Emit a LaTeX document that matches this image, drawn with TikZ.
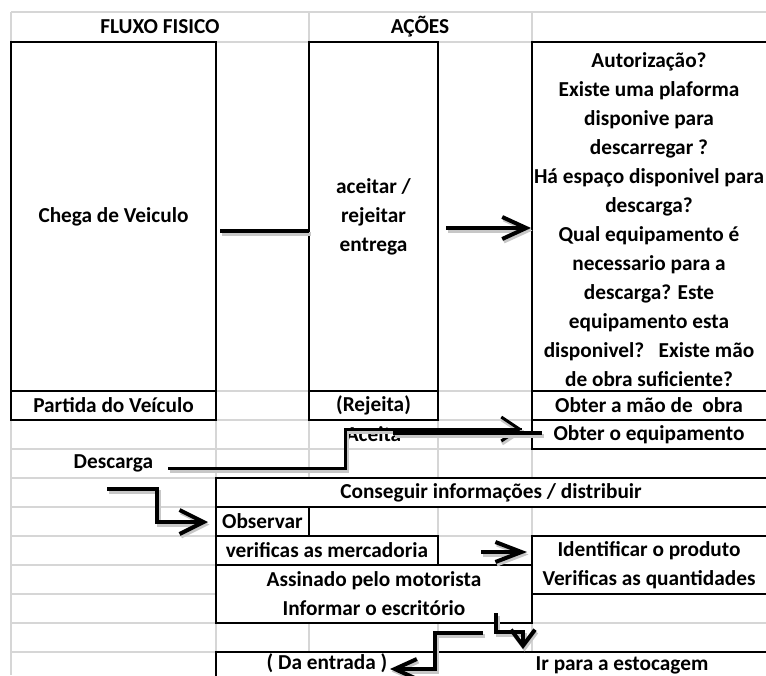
\documentclass[tikz,border=0pt]{standalone}
\usepackage{fontspec}
\setmainfont{Carlito}
\usetikzlibrary{arrows.meta}
\definecolor{gridgray}{HTML}{D6D6D6}
\begin{document}
\begin{tikzpicture}[x=1pt,y=-1pt,
  every node/.style={font=\bfseries\fontsize{21.3}{29}\selectfont, inner sep=0pt, align=center},
  grid/.style={draw=gridgray, line width=1.5pt},
  cell/.style={draw=black, line width=1.8pt, fill=white},
  conn/.style={line width=4pt,
    preaction={draw=black!22, line width=4pt, transform canvas={shift={(1.5pt,-2.5pt)}}}},
  barb/.style args={#1/#2}{-{Straight Barb[length=#1pt,width=#2pt]}}
]
\useasboundingbox (0,0) rectangle (766,675);
\clip (0,0) rectangle (766,675);

% spreadsheet grid
\draw[grid] (11,12) -- (766,12);
\draw[grid] (11,42) -- (766,42);
\foreach \yy in {391,420,449,478,507,536,565,594,623,652}
  \draw[grid] (11,\yy) -- (766,\yy);
\draw[grid] (11,12) -- (11,675);
\draw[grid] (309,12) -- (309,42);
\draw[grid] (532,12) -- (532,42);
\foreach \xx in {216,309,438,532}
  \draw[grid] (\xx,391) -- (\xx,675);
% merged cells of the upper block
\fill[white] (12,43) rectangle (766,390);

% headers
\node (hfis) at (160,27) {FLUXO FISICO};
\node (hacao) at (420,27) {AÇÕES};

% upper block
\node[cell, minimum width=205pt, minimum height=349pt] (chega) at (113.5,216.5) {Chega de Veiculo};
\node[cell, minimum width=129pt, minimum height=349pt] (decide) at (373.5,216.5) {aceitar /\\rejeitar\\entrega};
\node[cell, minimum width=240pt, minimum height=349pt] (pergunta) at (652,216.5) {};
\node (perguntatxt) at (649,219.5)
  {Autorização?\\Existe uma plaforma\\disponive para\\descarregar ?\\Há espaço disponivel para\\descarga?\\Qual equipamento é\\necessario para a\\descarga? Este\\equipamento esta\\disponivel?\ \ \ Existe mão\\de obra suficiente?};

% following rows
\node[cell, minimum width=205pt, minimum height=29pt] (partida) at (113.5,405.5) {Partida do Veículo};
\node[cell, minimum width=129pt, minimum height=29pt] (rejeita) at (373.5,405.5) {(Rejeita)};
\node[cell, minimum width=240pt, minimum height=29pt] (maoobra) at (652,405.5) {\hspace*{-6pt}Obter a mão de\ \ obra};
\node[cell, minimum width=240pt, minimum height=29pt] (equip) at (652,434.5) {\hspace*{-6pt}Obter o equipamento};
\node (aceita) at (373.5,434.5) {Aceita};
\node (descarga) at (113.5,463.5) {Descarga};
\node[cell, minimum width=556pt, minimum height=29pt] (conseguir) at (494,492.5) {\hspace*{-6pt}Conseguir informações / distribuir};
\node[cell, minimum width=93pt, minimum height=29pt] (observar) at (262.5,521.5) {Observar};
\node[cell, minimum width=222pt, minimum height=29pt] (verif) at (327,550.5) {verificas as mercadoria};
\node[cell, minimum width=240pt, minimum height=58pt] (ident) at (652,565) {\hspace*{-6pt}Identificar o produto\\\hspace*{-6pt}Verificas as quantidades};
\node[cell, minimum width=316pt, minimum height=58pt] (assin) at (374,594) {Assinado pelo motorista\\Informar o escritório};
\node[cell, minimum width=556pt, minimum height=40pt] (saida) at (494,672) {};
\node (entrada) at (327,663.5) {( Da entrada )};
\node (estoc) at (622,665) {Ir para a estocagem};

% connector end points
\coordinate (p1) at (220,231);
\coordinate (p2) at (309,231);
\coordinate (q1) at (446,228);
\coordinate (q2) at (531,228);
\coordinate (d1) at (168,468);
\coordinate (d2) at (345,429);
\coordinate (d3) at (522,429);
\coordinate (e1) at (393,433);
\coordinate (e2) at (542,433);
\coordinate (o1) at (107,489);
\coordinate (o2) at (157,522);
\coordinate (o3) at (208,522);
\coordinate (v1) at (481,552);
\coordinate (v2) at (527,552);
\coordinate (i1) at (496,613);
\coordinate (i2) at (523,632);
\coordinate (i3) at (523,649);
\coordinate (s1) at (483,633);
\coordinate (s2) at (435,669);
\coordinate (s3) at (390,669);

% connectors
\draw[conn] (p1) -- (p2);
\draw[conn, barb=24/22] (q1) -- (q2);
\draw[conn, line width=3pt] (d1) -| (d2) -- (d3);
\draw[conn, -{Straight Barb[length=18pt,width=24pt]}, line width=3pt] (d2) -- (d3);
\draw[conn, line width=4.5pt] (e1) -- (e2);
\draw[conn, barb=24/24] (o1) -| (o2) -- (o3);
\draw[conn, barb=26/20] (v1) -- (v2);
\draw[conn, barb=16/24] (i1) |- (i2) -- (i3);
\draw[conn, barb=22/20] (s1) -| (s2) -- (s3);
\end{tikzpicture}
\end{document}
